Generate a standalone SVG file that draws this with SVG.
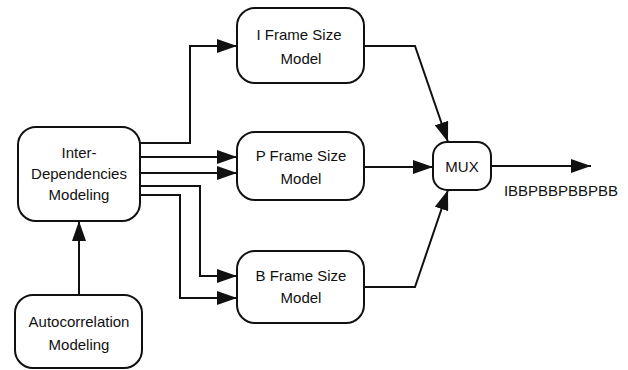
<svg xmlns="http://www.w3.org/2000/svg" width="628" height="370" viewBox="0 0 628 370">
<style>
.box{fill:#fff;stroke:#111;stroke-width:2}
.t{font-family:"Liberation Sans",Arial,sans-serif;font-size:15px;fill:#111;text-anchor:middle}
.c{fill:none;stroke:#111;stroke-width:2}
.a{marker-end:url(#ah)}
</style>
<defs>
<marker id="ah" markerUnits="userSpaceOnUse" markerWidth="22" markerHeight="14" refX="20" refY="7" orient="auto">
<path d="M0,0 L20,7 L0,14 Z" fill="#111"/>
</marker>
</defs>
<g id="connectors">
<path class="c a" d="M140,143 H190 V46 H237"/>
<path class="c a" d="M140,157 H237"/>
<path class="c a" d="M140,173 H237"/>
<path class="c a" d="M140,186 H200 V276 H237"/>
<path class="c a" d="M137,195 H180 V298 H237"/>
<path class="c a" d="M79,295 V221"/>
<path class="c a" d="M364,46 H415 L448,142"/>
<path class="c a" d="M364,167 H433"/>
<path class="c a" d="M364,287 H415 L448,190"/>
<path class="c a" d="M491,166 H591"/>
</g>
<g id="iframe">
<rect class="box" x="237" y="8" width="127" height="75" rx="18"/>
<text class="t" x="299" y="40">I Frame Size</text>
<text class="t" x="301" y="64">Model</text>
</g>
<g id="pframe">
<rect class="box" x="237" y="132" width="127" height="68" rx="18"/>
<text class="t" x="301" y="161">P Frame Size</text>
<text class="t" x="301" y="184">Model</text>
</g>
<g id="bframe">
<rect class="box" x="237" y="251" width="127" height="72" rx="18"/>
<text class="t" x="301" y="281">B Frame Size</text>
<text class="t" x="301" y="303">Model</text>
</g>
<g id="interdep">
<rect class="box" x="18" y="127" width="122" height="94" rx="18"/>
<text class="t" x="79" y="158">Inter-</text>
<text class="t" x="79" y="179">Dependencies</text>
<text class="t" x="79" y="200">Modeling</text>
</g>
<g id="autocorr">
<rect class="box" x="15" y="295" width="127" height="73" rx="18"/>
<text class="t" x="79" y="327">Autocorrelation</text>
<text class="t" x="79" y="350">Modeling</text>
</g>
<g id="mux">
<rect class="box" x="433" y="142" width="58" height="48" rx="14"/>
<text class="t" x="462" y="172">MUX</text>
</g>
<g id="output">
<text class="t" x="561" y="196">IBBPBBPBBPBB</text>
</g>
</svg>
